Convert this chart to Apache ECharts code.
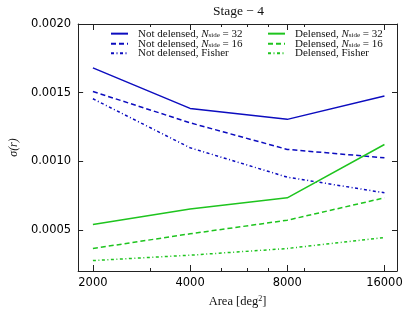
<!DOCTYPE html>
<html><head><meta charset="utf-8">
<script src="https://cdn.jsdelivr.net/npm/echarts@6/dist/echarts.min.js"></script>
<style>html,body{margin:0;padding:0;background:#fff}#c{width:407px;height:313px}</style>
</head><body><div id="c"></div>
<script>
const areas = [2000, 4000, 8000, 16000];
const minorAreas = [3000, 5000, 6000, 7000, 9000];
const yTicks = [0.0005, 0.0010, 0.0015, 0.0020];
const notDelensed32 = [0.00168, 0.001385, 0.001305, 0.001475];
const notDelensed16 = [0.001508, 0.00128, 0.001086, 0.001025];
const notDelensedFisher = [0.001455, 0.001098, 0.000884, 0.00077];
const delensed32 = [0.000539, 0.000651, 0.000733, 0.001122];
const delensed16 = [0.000364, 0.000471, 0.00057, 0.000733];
const delensedFisher = [0.000276, 0.000315, 0.000364, 0.000444];

const BLUE = '#0c0cbf', GREEN = '#1ec41e';
const SERIF = 'Liberation Serif';
const DASH = [5, 3], DASHDOT = [3, 2.5, 1, 2.5];

function pts(vals){ return areas.map((a,i)=>[a, vals[i]]); }
function mk(name, vals, color, type){
  return {name, type:'line', data: pts(vals), symbol:'none', showSymbol:false,
    lineStyle:{color, width:1.5, type}, itemStyle:{color}, animation:false, z:3};
}
const series = [
  mk('Not delensed, Nside = 32', notDelensed32, BLUE, 'solid'),
  mk('Not delensed, Nside = 16', notDelensed16, BLUE, DASH),
  mk('Not delensed, Fisher', notDelensedFisher, BLUE, DASHDOT),
  mk('Delensed, Nside = 32', delensed32, GREEN, 'solid'),
  mk('Delensed, Nside = 16', delensed16, GREEN, DASH),
  mk('Delensed, Fisher', delensedFisher, GREEN, DASHDOT),
];
const LH = 9.7;
const richLeg = {
  t:{fontFamily:SERIF, fontSize:11, color:'#111', padding:[0,0,0,5], lineHeight:LH},
  i:{fontFamily:SERIF, fontSize:11, fontStyle:'italic', color:'#111', lineHeight:LH},
  s:{fontFamily:SERIF, fontSize:7, color:'#111', verticalAlign:'bottom', padding:[4,0,0,0], lineHeight:LH},
  n:{fontFamily:SERIF, fontSize:11, color:'#111', lineHeight:LH}
};
function legFmt(name){
  const m = name.match(/^(.*), Nside = (\d+)$/);
  if (m) return '{t|' + m[1] + ', }{i|N}{s|side}{n| = ' + m[2] + '}';
  return '{t|' + name + '}';
}
function legend(data, left){
  return {data, left, top:27.5, orient:'vertical', itemWidth:17, itemHeight:LH, itemGap:-1.5,
    padding:0, formatter:legFmt, itemStyle:{opacity:0},
    textStyle:{rich:richLeg, lineHeight:LH}, selectedMode:false};
}
const axLine = {show:true, lineStyle:{color:'#222', width:1}};
function xAx(pos, major, showLabel){
  return {type:'log', logBase:2, min:1800, max:17500, position:pos,
    axisLine: major ? axLine : {show:false},
    axisTick:{show:true, inside:true, length: major?6:3, customValues: major?areas:minorAreas, lineStyle:{color:'#222'}},
    axisLabel:{show:showLabel, customValues:areas, formatter:v=>String(Math.round(v)), color:'#000',
      fontFamily:'DejaVu Sans', fontSize:11.5, margin:6},
    splitLine:{show:false}, minorTick:{show:false},
    name: showLabel ? 'Area [deg{sup|2}]' : '', nameLocation:'middle', nameGap:24,
    nameTextStyle:{fontFamily:SERIF, fontSize:12.5, color:'#111', rich:{sup:{fontFamily:SERIF, fontSize:8, color:'#111', verticalAlign:'top', padding:[0,0,5,0]}}}
  };
}
function yAx(pos, showLabel){
  return {type:'value', min:0.0002, max:0.0020, position:pos,
    axisLine: axLine,
    axisTick:{show:true, inside:true, length:5, customValues:yTicks, lineStyle:{color:'#222'}},
    axisLabel:{show:showLabel, customValues:yTicks, formatter:v=>v.toFixed(4), color:'#000',
      fontFamily:'DejaVu Sans', fontSize:11.5, margin:7},
    splitLine:{show:false},
    name: showLabel ? 'σ(r)' : '', nameLocation:'middle', nameGap:54, nameRotate:90,
    nameTextStyle:{fontFamily:SERIF, fontSize:12, fontStyle:'italic', color:'#111'}
  };
}
const chart = echarts.init(document.getElementById('c'), null, {renderer:'canvas'});
chart.setOption({
  animation:false,
  backgroundColor:'#fff',
  title:{text:'Stage − 4', left:233.5, textAlign:'center', top:-1,
    textStyle:{fontFamily:SERIF, fontSize:13.5, fontWeight:'normal', color:'#111'}},
  grid:{left:70, right:10, top:24, bottom:42, containLabel:false},
  legend:[legend(series.slice(0,3).map(s=>s.name), 110), legend(series.slice(3).map(s=>s.name), 267)],
  xAxis:[xAx('bottom', true, true), xAx('bottom', false, false), xAx('top', true, false), xAx('top', false, false)],
  yAxis:[yAx('left', true), yAx('right', false)],
  series
});
</script></body></html>
